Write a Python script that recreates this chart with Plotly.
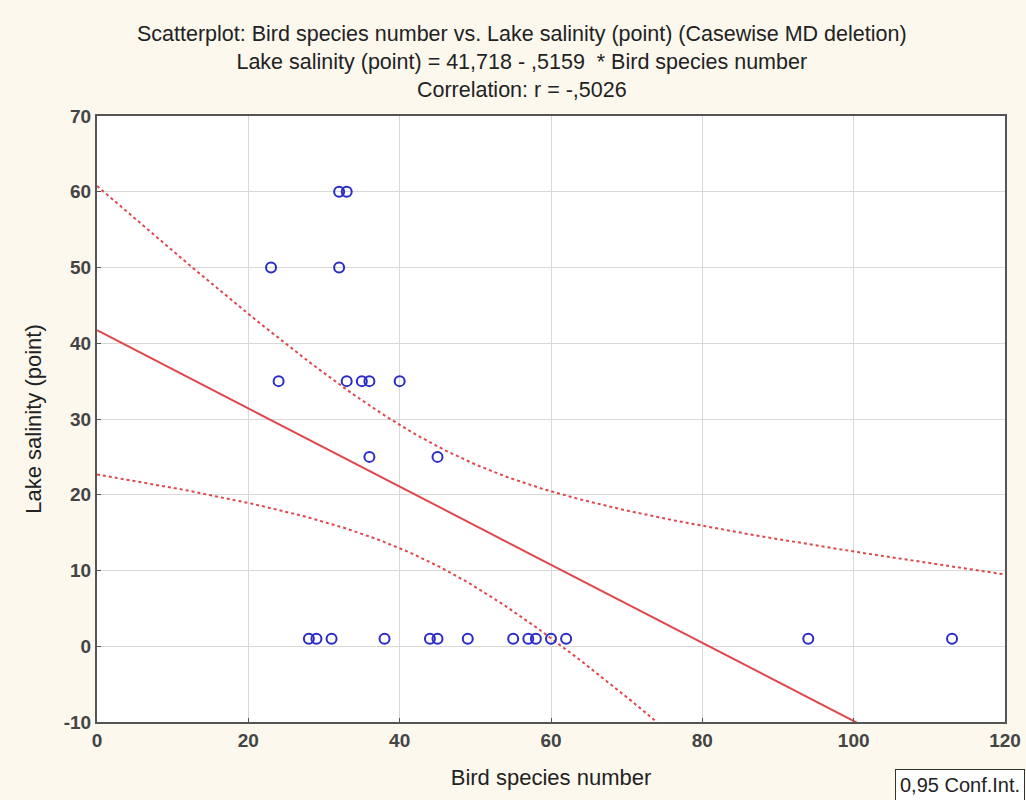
import numpy as np
import plotly.graph_objects as go

# Data
bird_species = [23, 24, 32, 33, 32, 33, 35, 36, 40, 36, 45,
                28, 29, 31, 38, 44, 45, 49, 55, 57, 58, 60, 62, 94, 113]
lake_salinity = [50, 35, 60, 60, 50, 35, 35, 35, 35, 25, 25,
                 1, 1, 1, 1, 1, 1, 1, 1, 1, 1, 1, 1, 1, 1]
intercept = 41.718
slope = -0.5159
t_crit = 2.0687  # t(0.975, df=23)

x_tick_vals = [0, 20, 40, 60, 80, 100, 120]
x_tick_text = ["0", "20", "40", "60", "80", "100", "120"]
y_tick_vals = [-10, 0, 10, 20, 30, 40, 50, 60, 70]
y_tick_text = ["-10", "0", "10", "20", "30", "40", "50", "60", "70"]

x = np.array(bird_species, float)
y = np.array(lake_salinity, float)
n = len(x)
xs = np.linspace(0, 120, 241)
yhat = intercept + slope * xs
resid = y - (intercept + slope * x)
s = np.sqrt(np.sum(resid ** 2) / (n - 2))
sxx = np.sum((x - x.mean()) ** 2)
half = t_crit * s * np.sqrt(1 / n + (xs - x.mean()) ** 2 / sxx)

red = "#e0474c"
fig = go.Figure()
fig.add_trace(go.Scatter(x=xs, y=yhat + half, mode="lines",
                         line=dict(color=red, width=2, dash="dot"), hoverinfo="skip"))
fig.add_trace(go.Scatter(x=xs, y=yhat - half, mode="lines",
                         line=dict(color=red, width=2, dash="dot"), hoverinfo="skip"))
fig.add_trace(go.Scatter(x=xs, y=yhat, mode="lines",
                         line=dict(color=red, width=2), hoverinfo="skip"))
fig.add_trace(go.Scatter(x=bird_species, y=lake_salinity, mode="markers",
                         marker=dict(symbol="circle-open", size=10, color="#2b2bc8",
                                     line=dict(width=2, color="#2b2bc8"))))

font_main = "Liberation Sans, Arial, sans-serif"
tickfont = dict(size=19, color="#444444", family=font_main, weight="bold")
fig.update_layout(
    width=1026, height=800,
    margin=dict(l=97, r=21, t=116, b=78),
    paper_bgcolor="#fcf8ee", plot_bgcolor="white",
    showlegend=False,
    font=dict(family=font_main, color="#333333", size=16),
    annotations=[
        dict(text="Scatterplot: Bird species number vs. Lake salinity (point) (Casewise MD deletion)"
                  "<br>Lake salinity (point) = 41,718 - ,5159  * Bird species number"
                  "<br>Correlation: r = -,5026",
             xref="paper", yref="paper", x=0.468, y=1.0, yshift=96, xanchor="center",
             yanchor="top", showarrow=False, align="center",
             font=dict(size=21.5, color="#222222")),
        dict(text="0,95 Conf.Int.", xref="paper", yref="paper", x=1.0, y=0, xshift=20,
             yshift=-79, xanchor="right", yanchor="bottom", showarrow=False,
             bordercolor="#333333", borderwidth=1, borderpad=4, bgcolor="white",
             font=dict(size=20, color="#222222")),
    ],
    xaxis=dict(range=[0, 120], tickmode="array", tickvals=x_tick_vals, ticktext=x_tick_text,
               showgrid=True, gridcolor="#d8d8d8", automargin=False,
               zeroline=False, showline=True, linecolor="#555555", linewidth=2, mirror=True,
               ticks="inside", ticklen=4, tickcolor="#555555", tickfont=tickfont,
               title=dict(text="Bird species number", font=dict(size=22, color="#222222"), standoff=20)),
    yaxis=dict(range=[-10, 70], tickmode="array", tickvals=y_tick_vals, ticktext=y_tick_text,
               showgrid=True, gridcolor="#d8d8d8", automargin=False,
               zeroline=False, showline=True, linecolor="#555555", linewidth=2, mirror=True,
               ticks="inside", ticklen=4, tickcolor="#555555", tickfont=tickfont,
               title=dict(text="Lake salinity (point)", font=dict(size=22, color="#222222"), standoff=16)),
)

fig.write_html("out.html", config={"displayModeBar": False},
               post_script="document.body.style.margin='0';document.body.style.overflow='hidden';")
